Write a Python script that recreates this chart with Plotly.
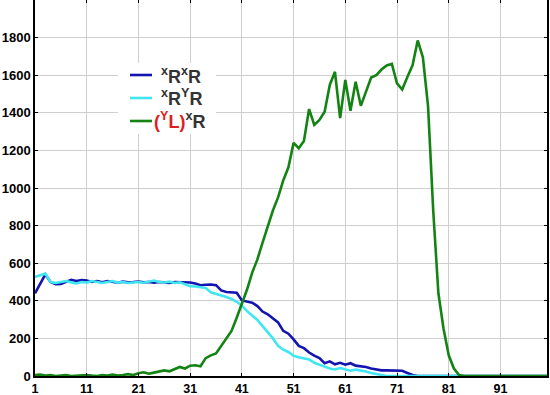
import plotly.graph_objects as go

x_vals = list(range(1, 101))

series_xrx = [440, 490, 540, 500, 488, 490, 502, 512, 505, 510,
              508, 500, 505, 498, 505, 500, 496, 502, 498, 500,
              503, 498, 500, 496, 500, 498, 495, 500, 500, 498,
              497, 492, 483, 485, 487, 483, 455, 447, 446, 443,
              402, 395, 390, 372, 343, 328, 305, 285, 240, 225,
              195, 160, 148, 125, 108, 95, 68, 78, 62, 70,
              60, 68, 55, 52, 48, 40, 33, 30, 30, 30,
              30, 28, 16, 5] + [0] * 26

series_xry = [527, 535, 545, 500, 495, 500, 505, 498, 492, 500,
              497, 505, 498, 495, 500, 505, 497, 500, 495, 498,
              500, 496, 502, 508, 500, 497, 502, 495, 498, 488,
              478, 476, 474, 468, 445, 438, 428, 420, 410, 395,
              375, 345, 322, 298, 265, 235, 200, 160, 140, 128,
              108, 100, 95, 88, 70, 58, 50, 40, 35, 42,
              36, 28, 34, 30, 24, 16, 10, 4] + [0] * 32

series_ylxr = [5, 8, 3, 5, 0, 3, 5, 0, 3, 2,
               5, 2, 0, 5, 3, 8, 2, 5, 10, 5,
               15, 20, 12, 18, 22, 30, 25, 35, 48, 40,
               55, 57, 52, 95, 110, 120, 160, 200, 240, 310,
               380, 460, 550, 620, 710, 800, 880, 950, 1040, 1110,
               1240, 1212, 1250, 1420, 1336, 1362, 1406, 1548, 1618, 1372,
               1575, 1411, 1565, 1437, 1512, 1588, 1600, 1630, 1652, 1660,
               1556, 1524, 1591, 1653, 1785, 1695, 1435, 880, 440, 250,
               110, 40, 5] + [0] * 17

x_tick_vals = [1, 11, 21, 31, 41, 51, 61, 71, 81, 91]
y_tick_vals = [0, 200, 400, 600, 800, 1000, 1200, 1400, 1600, 1800]

c_blue = "#1414B0"
c_cyan = "#40E6F2"
c_green = "#138413"
font_fam = "Arial, Liberation Sans, sans-serif"

fig = go.Figure()
fig.add_trace(go.Scatter(x=x_vals, y=series_xrx, mode="lines",
                         line=dict(color=c_blue, width=2.6), name="xRxR"))
fig.add_trace(go.Scatter(x=x_vals, y=series_xry, mode="lines",
                         line=dict(color=c_cyan, width=2.6), name="xRyR"))
fig.add_trace(go.Scatter(x=x_vals, y=series_ylxr, mode="lines",
                         line=dict(color=c_green, width=2.6), name="(yL)xR"))

L, R, T, B = 35, 3, 0, 19
W, H = 550, 395
pw, ph = W - L - R, H - T - B


def px(xp):
    return (xp - L) / pw


def py(yp):
    return (H - B - yp) / ph


shapes = [dict(type="rect", xref="paper", yref="paper",
               x0=px(118), x1=px(216), y0=py(134), y1=py(63),
               fillcolor="white", line=dict(width=0), layer="above")]
legend_items = [
    (75, c_blue, "<sup>x</sup>R<sup>x</sup>R", 159),
    (98, c_cyan, "<sup>x</sup>R<sup>Y</sup>R", 159),
    (121, c_green, "<span style='color:#DD2020'>(<sup>Y</sup>L)</span><sup>x</sup>R", 152),
]
annotations = []
for yy, col, txt, tx in legend_items:
    shapes.append(dict(type="line", xref="paper", yref="paper",
                       x0=px(130), x1=px(152), y0=py(yy), y1=py(yy),
                       line=dict(color=col, width=2.6), layer="above"))
    annotations.append(dict(xref="paper", yref="paper", x=px(tx), y=py(yy),
                            xanchor="left", yanchor="middle", showarrow=False,
                            text="<b>" + txt + "</b>",
                            font=dict(family=font_fam, size=18, color="#333333")))

fig.update_layout(
    width=W, height=H,
    margin=dict(l=L, r=R, t=T, b=B, pad=0, autoexpand=False),
    paper_bgcolor="white", plot_bgcolor="white",
    showlegend=False,
    shapes=shapes, annotations=annotations,
    font=dict(family=font_fam, size=13, color="black"),
)
fig.update_xaxes(range=[1, 100], tickvals=x_tick_vals,
                 ticktext=[f"<b>{v}</b>" for v in x_tick_vals],
                 tickfont=dict(size=12.5),
                 showgrid=True, gridcolor="#CFCFCF", gridwidth=1,
                 showline=True, linecolor="black", linewidth=1.5, mirror="ticks",
                 ticks="inside", ticklen=3, tickcolor="black", zeroline=False,
                 automargin=False, ticklabelstandoff=0)
fig.update_yaxes(range=[0, 2000], tickvals=y_tick_vals,
                 ticktext=[f"<b>{v}</b>" for v in y_tick_vals],
                 showgrid=True, gridcolor="#CFCFCF", gridwidth=1,
                 showline=True, linecolor="black", linewidth=1.5, mirror="ticks",
                 ticks="inside", ticklen=3, tickcolor="black", zeroline=False,
                 automargin=False)

fig.write_html("out.html", config={"displayModeBar": False},
               post_script="document.body.style.margin='0';document.body.style.padding='0';")
